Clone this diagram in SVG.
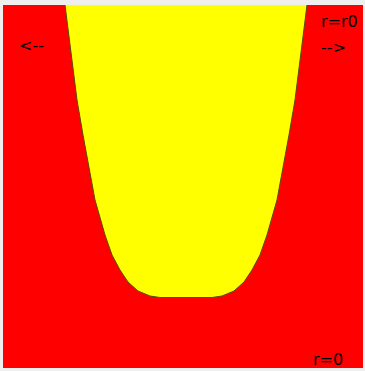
<svg xmlns="http://www.w3.org/2000/svg" width="365" height="371" viewBox="0 0 365 371">
<style>
.lbl{font-family:"DejaVu Sans",sans-serif;font-size:16px;fill:#000}
</style>
<rect x="0" y="0" width="365" height="371" fill="#efefef"/>
<g id="region-outer"><rect x="3" y="5" width="360" height="363" fill="#ff0000"/></g>
<g id="region-inner">
<path d="M65,5 L77,100 L83,135 L95,200 L105,235 L112,255 L120,270 L128,282 L138,291 L150,296 L160,297.5 L212,297.5 L222,296 L234,291 L244,282 L252,270 L260,255 L267,235 L277,200 L289,135 L295,100 L307,5 Z" fill="#ffff00"/>
<path d="M65,5 L77,100 L83,135 L95,200 L105,235 L112,255 L120,270 L128,282 L138,291 L150,296 L160,297.5 L212,297.5 L222,296 L234,291 L244,282 L252,270 L260,255 L267,235 L277,200 L289,135 L295,100 L307,5" fill="none" stroke="#5a4a00" stroke-width="1" stroke-linejoin="round"/>
</g>
<g id="labels">
<text class="lbl" x="321" y="27">r=r0</text>
<text class="lbl" x="321" y="53">--&gt;</text>
<text class="lbl" x="19" y="51">&lt;--</text>
<text class="lbl" x="313" y="365">r=0</text>
</g>
</svg>
